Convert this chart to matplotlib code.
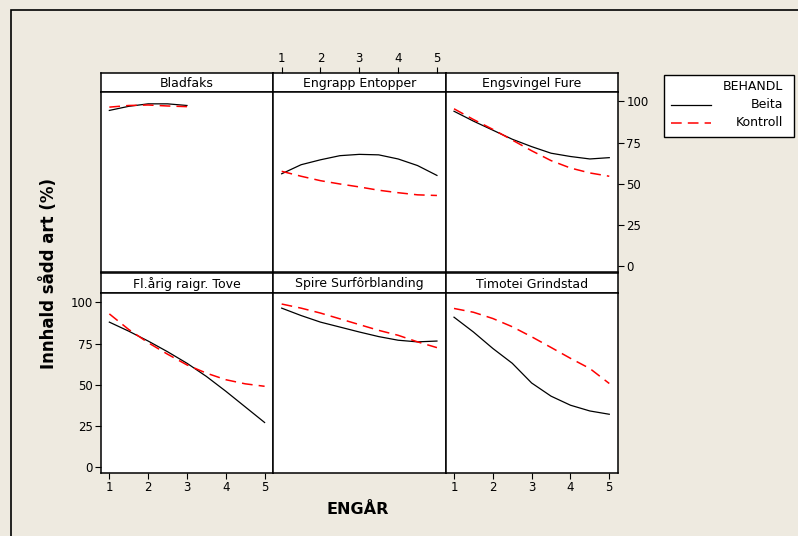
import matplotlib

matplotlib.use('Agg')
import matplotlib.pyplot as plt
from matplotlib.lines import Line2D
from matplotlib.patches import Rectangle

# values (innhald sådd art, %)
engar = [1, 1.5, 2, 2.5, 3, 3.5, 4, 4.5, 5]
engar_bladfaks = [1, 1.5, 2, 2.5, 3]

panel_names = ['Bladfaks', 'Engrapp Entopper', 'Engsvingel Fure',
               'Fl.årig raigr. Tove', 'Spire Surfôrblanding', 'Timotei Grindstad']

bladfaks_beita = [94.5, 97, 98.5, 98.5, 97.5]
bladfaks_kontroll = [96.5, 97.5, 97.8, 97.2, 96.8]

engrapp_beita = [56, 61.5, 64.5, 67, 67.8, 67.5, 65, 61, 55]
engrapp_kontroll = [57.5, 54.5, 51.8, 49.8, 48, 46, 44.5, 43.2, 42.8]

engsvingel_beita = [94, 88, 82.5, 77, 72.5, 68.5, 66.5, 65, 65.8]
engsvingel_kontroll = [95.5, 89, 83, 76.5, 70, 64, 59.5, 56.5, 54.5]

raigras_beita = [88, 82.5, 76.5, 70, 63, 55, 46, 36.5, 27]
raigras_kontroll = [93, 83.5, 75.5, 68.5, 62, 57, 53, 50.5, 49]

spire_beita = [96.5, 92, 88, 85, 82, 79.2, 77, 76, 76.5]
spire_kontroll = [99, 96.5, 93.5, 90, 86.5, 83, 80, 76, 72.5]

timotei_beita = [91, 82, 72, 63, 51, 43, 37.5, 34, 32]
timotei_kontroll = [96.3, 94, 90.2, 85.2, 79.1, 72.6, 66, 59.8, 50.7]

y_ticks = [0, 25, 50, 75, 100]
x_ticks = [1, 2, 3, 4, 5]
legend_title = 'BEHANDL'
legend_labels = ['Beita', 'Kontroll']

series = [
    (engar_bladfaks, bladfaks_beita, bladfaks_kontroll),
    (engar, engrapp_beita, engrapp_kontroll),
    (engar, engsvingel_beita, engsvingel_kontroll),
    (engar, raigras_beita, raigras_kontroll),
    (engar, spire_beita, spire_kontroll),
    (engar, timotei_beita, timotei_kontroll),
]

BG = '#eeeae0'
W, H = 798, 536
DASH = (0, (7, 4))
XLIM = (0.785, 5.225)

fig = plt.figure(figsize=(W / 100, H / 100), dpi=100, facecolor=BG)

# outer frame
fig.add_artist(Rectangle((11 / W, -0.1), 1.2, 1 - 10 / H + 0.1, transform=fig.transFigure,
                         fill=False, edgecolor='black', linewidth=1.2))


def fx(px):
    return px / W


def fy(py):
    return 1 - py / H


left, right = 101, 618
col_w = (right - left) / 3
rows = [(73, 92, 272), (273, 293, 473)]  # header top, plot top, plot bottom

for i, name in enumerate(panel_names):
    r, c = divmod(i, 3)
    head_top, top, bottom = rows[r]
    x0 = left + c * col_w

    hax = fig.add_axes([fx(x0), fy(top), col_w / W, (top - head_top) / H])
    hax.set_xlim(*XLIM)
    hax.set_xticks([])
    hax.set_yticks([])
    hax.set_facecolor('white')
    for s in hax.spines.values():
        s.set_linewidth(1.1)
    hax.text(0.5, 0.45, name, ha='center', va='center', fontsize=9, transform=hax.transAxes)
    hax.tick_params(direction='out', length=4, width=0.8, labelsize=8.5, pad=2)
    if r == 0 and c == 1:
        # top row middle panel carries its x ticks above the strip
        hax.set_xticks(x_ticks)
        hax.xaxis.tick_top()

    ax = fig.add_axes([fx(x0), fy(bottom), col_w / W, (bottom - top) / H])
    ax.set_facecolor('white')
    xs, beita, kontroll = series[i]
    ax.plot(xs, beita, color='black', linewidth=0.9)
    ax.plot(xs, kontroll, color='#ff0000', linewidth=1.1, linestyle=DASH)
    ax.set_xlim(*XLIM)
    ax.set_ylim(-3.7, 105.7)
    for s in ax.spines.values():
        s.set_linewidth(1.1)

    ax.tick_params(direction='out', length=4, width=0.8, labelsize=8.5, pad=2)
    ax.set_xticks([])
    ax.set_yticks([])
    if r == 1 and c in (0, 2):
        ax.set_xticks(x_ticks)
    if r == 1 and c == 0:
        ax.set_yticks(y_ticks)
    if r == 0 and c == 2:
        ax.set_yticks(y_ticks)
        ax.yaxis.tick_right()

fig.text(fx(49), fy(273), 'Innhald sådd art (%)', rotation=90, ha='center', va='center',
         fontsize=12, fontweight='bold')
fig.text(fx(358), fy(509), 'ENGÅR', ha='center', va='center', fontsize=11.5, fontweight='bold')

# legend box
lx0, lx1, ly0, ly1 = 664, 794, 75, 137
fig.add_artist(Rectangle((fx(lx0), fy(ly1)), (lx1 - lx0) / W, (ly1 - ly0) / H,
                         transform=fig.transFigure, facecolor='white', edgecolor='black',
                         linewidth=1.0))
fig.text(fx(783), fy(86), legend_title, ha='right', va='center', fontsize=9)
for j, (lab, col, ls, lw) in enumerate(zip(legend_labels, ['black', '#ff0000'],
                                            ['-', DASH], [0.9, 1.1])):
    yy = fy(105 + j * 18)
    fig.add_artist(Line2D([fx(671), fx(711)], [yy, yy], transform=fig.transFigure,
                          color=col, linestyle=ls, linewidth=lw))
    fig.text(fx(783), yy, lab, ha='right', va='center', fontsize=9)

fig.savefig('out.png', dpi=100, facecolor=BG)
